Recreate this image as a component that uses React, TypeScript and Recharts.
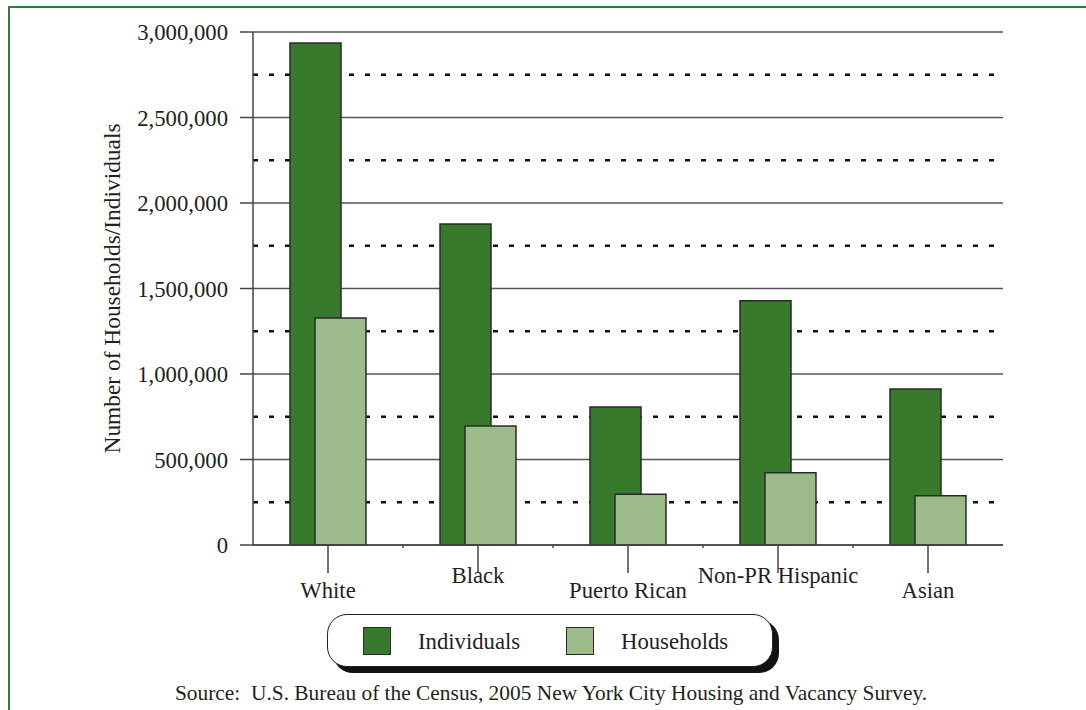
import React from "react";
import {
    BarChart,
    Bar,
    XAxis,
    YAxis,
    CartesianGrid,
} from "recharts";

const categories: string[] = ["White", "Black", "Puerto Rican", "Non-PR Hispanic", "Asian"];
const individuals: number[] = [2935000, 1877000, 807000, 1429000, 912000];
const households: number[] = [1327000, 696000, 297000, 423000, 288000];
const majorTicks: number[] = [0, 500000, 1000000, 1500000, 2000000, 2500000, 3000000];
const minorTicks: number[] = [250000, 750000, 1250000, 1750000, 2250000, 2750000];
const seriesNames: string[] = ["Individuals", "Households"];
const sourceNote = "Source:\u00a0 U.S. Bureau of the Census, 2005 New York City Housing and Vacancy Survey.";

const DARK = "#377a2c";
const LIGHT = "#9dba8a";
const INK = "#231f20";
const FONT = "'Liberation Serif', 'Times New Roman', serif";
const TEXT_SIZE = 22.7;

const data = categories.map((name, i) => ({
    name,
    individuals: individuals[i],
    households: households[i],
}));

// width of one category band in the plot (750px / 5)
const BAND = 150;

interface TickProps {
    x?: number;
    y?: number;
    index?: number;
    payload?: { value: string };
}

// category tick: long tick line, staggered label, short divider tick between bands
const CategoryTick = ({ x = 0, y = 0, index = 0, payload }: TickProps): React.ReactElement => {
    const low = index % 2 === 0;
    return (
        <g>
            <line x1={x} y1={y} x2={x} y2={y + 28} stroke="#444" strokeWidth={1.5} />
            {index < categories.length - 1 && (
                <line x1={x + BAND / 2} y1={y} x2={x + BAND / 2} y2={y + 3} stroke="#444" strokeWidth={1.5} />
            )}
            <text x={x} y={y + (low ? 53 : 38)} textAnchor="middle" fontSize={TEXT_SIZE} fill={INK} fontFamily={FONT}>
                {payload?.value}
            </text>
        </g>
    );
};

export default function App(): React.ReactElement {
    return (
        <div
            style={{
                position: "absolute",
                left: 0,
                top: 0,
                width: 1086,
                height: 710,
                overflow: "hidden",
                background: "#fff",
                fontFamily: FONT,
            }}
        >
            {/* green frame, open on the right and bottom */}
            <div
                style={{
                    position: "absolute",
                    left: 8,
                    top: 6,
                    width: 1200,
                    height: 800,
                    borderTop: "2.5px solid #2f7b36",
                    borderLeft: "2.5px solid #2f7b36",
                }}
            />

            <div style={{ position: "absolute", left: 0, top: 0 }}>
                <BarChart
                    width={1086}
                    height={620}
                    data={data}
                    margin={{ top: 32, right: 83, left: 103, bottom: 15 }}
                    barSize={51}
                    barGap={-26}
                >
                    <CartesianGrid
                        vertical={false}
                        horizontalValues={minorTicks}
                        stroke="#111"
                        strokeWidth={2.5}
                        strokeDasharray="5 11"
                    />
                    <CartesianGrid vertical={false} stroke="#555" strokeWidth={1.5} />
                    <XAxis
                        dataKey="name"
                        height={60}
                        axisLine={{ stroke: "#444", strokeWidth: 1.5 }}
                        tickLine={false}
                        tickSize={0}
                        tickMargin={0}
                        interval={0}
                        tick={<CategoryTick />}
                    />
                    <YAxis
                        width={150}
                        domain={[0, 3000000]}
                        ticks={majorTicks}
                        interval={0}
                        axisLine={{ stroke: "#444", strokeWidth: 1.5 }}
                        tickLine={{ stroke: "#444", strokeWidth: 1.5 }}
                        tickSize={13}
                        tickMargin={12}
                        tick={{ fontSize: TEXT_SIZE, fill: INK, fontFamily: FONT }}
                        tickFormatter={(v: number) => v.toLocaleString("en-US")}
                        label={{
                            value: "Number of Households/Individuals",
                            angle: -90,
                            position: "center",
                            dx: -66,
                            dy: 0,
                            style: { fontSize: 23.4, fill: INK, fontFamily: FONT, textAnchor: "middle" },
                        }}
                    />
                    <Bar
                        dataKey="individuals"
                        name={seriesNames[0]}
                        fill={DARK}
                        stroke="#2a2a2a"
                        strokeWidth={1.5}
                        isAnimationActive={false}
                    />
                    <Bar
                        dataKey="households"
                        name={seriesNames[1]}
                        fill={LIGHT}
                        stroke="#2a2a2a"
                        strokeWidth={1.5}
                        isAnimationActive={false}
                    />
                </BarChart>
            </div>

            {/* legend box with a hard drop shadow */}
            <div
                style={{
                    position: "absolute",
                    left: 327,
                    top: 614,
                    width: 444,
                    height: 51,
                    border: "1.5px solid #222",
                    borderRadius: 20,
                    boxShadow: "6px 6px 0 #111",
                    background: "#fff",
                }}
            >
                {seriesNames.map((name, i) => (
                    <div key={name}>
                        <div
                            style={{
                                position: "absolute",
                                left: i === 0 ? 35 : 238,
                                top: 12,
                                width: 26,
                                height: 26,
                                background: i === 0 ? DARK : LIGHT,
                                border: "1.5px solid #2a2a2a",
                            }}
                        />
                        <div
                            style={{
                                position: "absolute",
                                left: i === 0 ? 90 : 293,
                                top: 14,
                                fontSize: TEXT_SIZE,
                                lineHeight: "26px",
                                color: INK,
                            }}
                        >
                            {name}
                        </div>
                    </div>
                ))}
            </div>

            <div
                style={{
                    position: "absolute",
                    left: 0,
                    width: 1102,
                    top: 680,
                    textAlign: "center",
                    fontSize: 21.4,
                    lineHeight: "26px",
                    color: INK,
                }}
            >
                {sourceNote}
            </div>
        </div>
    );
}
